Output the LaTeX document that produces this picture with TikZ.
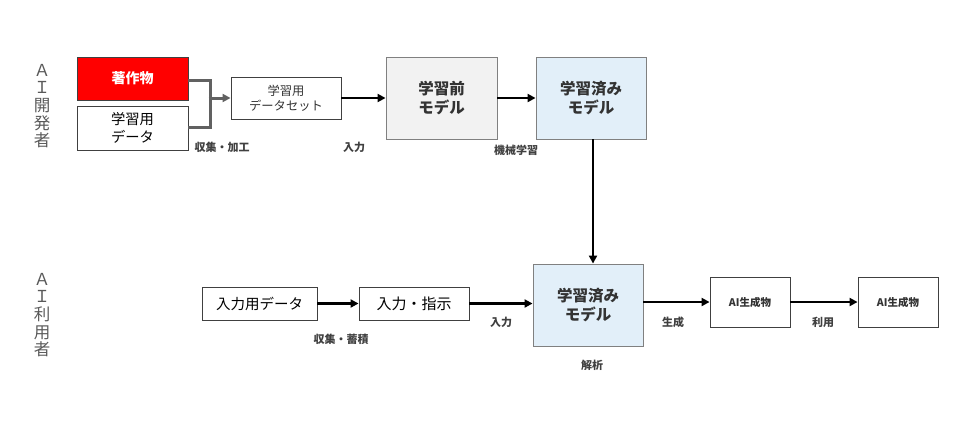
\documentclass[tikz,border=0pt]{standalone}
\usepackage{fontspec}
\setmainfont{Noto Sans CJK JP}
\usetikzlibrary{arrows.meta}
\definecolor{bordergray}{HTML}{404040}
\definecolor{lgray}{HTML}{F2F2F2}
\definecolor{lblue}{HTML}{E2EFF9}
\definecolor{sidegray}{HTML}{595959}
\tikzset{
  box/.style={draw=bordergray, line width=0.9pt, inner sep=0pt, align=center, text=black},
  modelbox/.style={box, draw=gray, font=\fontsize{15.5}{19}\selectfont\bfseries, text=black!80},
  lbl/.style={font=\fontsize{11}{12}\selectfont\bfseries, text=black!75, inner sep=0pt},
  conn/.style={line width=2.6pt, -{Triangle[length=8pt,width=8pt]}},
  gline/.style={line width=3pt, draw=black!62},
  gconn/.style={gline, -{Triangle[length=8pt,width=8pt]}},
  side/.style={font=\fontsize{16.5}{17.6}\selectfont, text=sidegray, align=center, inner sep=0pt}
}
\begin{document}
\begin{tikzpicture}[x=1pt,y=-1pt]
\useasboundingbox (0,0) rectangle (960,426);
% top row
\node[box, fill=red, font=\fontsize{14}{17}\selectfont\bfseries, text=white, minimum width=111pt, minimum height=43pt] (cw) at (132.5,78.5) {著作物};
\node[box, font=\fontsize{14.3}{18}\selectfont, minimum width=111pt, minimum height=44pt] (ld) at (132.5,128) {学習用\\データ};
\node[box, font=\fontsize{12.3}{15}\selectfont, text=black!80, minimum width=110pt, minimum height=42pt] (ds) at (286,98) {学習用\\データセット};
\node[modelbox, fill=lgray, minimum width=111pt, minimum height=82pt] (pre) at (441.5,98) {学習前\\モデル};
\node[modelbox, fill=lblue, minimum width=110pt, minimum height=82pt] (tm1) at (591,98) {学習済み\\モデル};
% bottom row
\node[box, font=\fontsize{14.5}{17}\selectfont, minimum width=115pt, minimum height=33pt] (ind) at (259.5,303.5) {入力用データ};
\node[box, font=\fontsize{15}{17}\selectfont, minimum width=110pt, minimum height=33pt] (ins) at (414,303.5) {入力・指示};
\node[modelbox, fill=lblue, minimum width=110pt, minimum height=82pt] (tm2) at (588,305) {学習済み\\モデル};
\node[box, font=\fontsize{10.5}{12}\selectfont\bfseries, text=black!80, minimum width=80pt, minimum height=50pt] (g1) at (750,302) {AI生成物};
\node[box, font=\fontsize{10.5}{12}\selectfont\bfseries, text=black!80, minimum width=80pt, minimum height=50pt] (g2) at (898,302) {AI生成物};
% side labels
\node[side] (s1) at (42,106) {Ａ\\Ｉ\\開\\発\\者};
\node[side] (s2) at (42,315) {Ａ\\Ｉ\\利\\用\\者};
% connectors
\coordinate (j) at (210,98);
\draw[gline] (cw.east |- 0,80) -| ([yshift=1.5pt]j);
\draw[gline] (ld.east |- 0,127) -| ([yshift=-1.5pt]j);
\draw[gconn] ([xshift=-1.5pt]j) -- (ds.west);
\draw[conn] (ds.east) -- (pre.west);
\draw[conn] (pre.east) -- (tm1.west);
\draw[conn] (tm1.south -| 593,0) -- (tm2.north -| 593,0);
\draw[conn] (ind.east) -- (ins.west);
\draw[conn] (ins.east) -- (tm2.west |- ins.east);
\draw[conn] (tm2.east |- g1.west) -- (g1.west);
\draw[conn] (g1.east) -- (g2.west);
% labels
\node[lbl] (l1) at (222,147) {収集・加工};
\node[lbl] (l2) at (354,147) {入力};
\node[lbl] (l3) at (516,150) {機械学習};
\node[lbl] (l4) at (341,339) {収集・蓄積};
\node[lbl] (l5) at (501,322) {入力};
\node[lbl] (l6) at (673,322) {生成};
\node[lbl] (l7) at (823,322) {利用};
\node[lbl] (l8) at (592,365) {解析};
\end{tikzpicture}
\end{document}
